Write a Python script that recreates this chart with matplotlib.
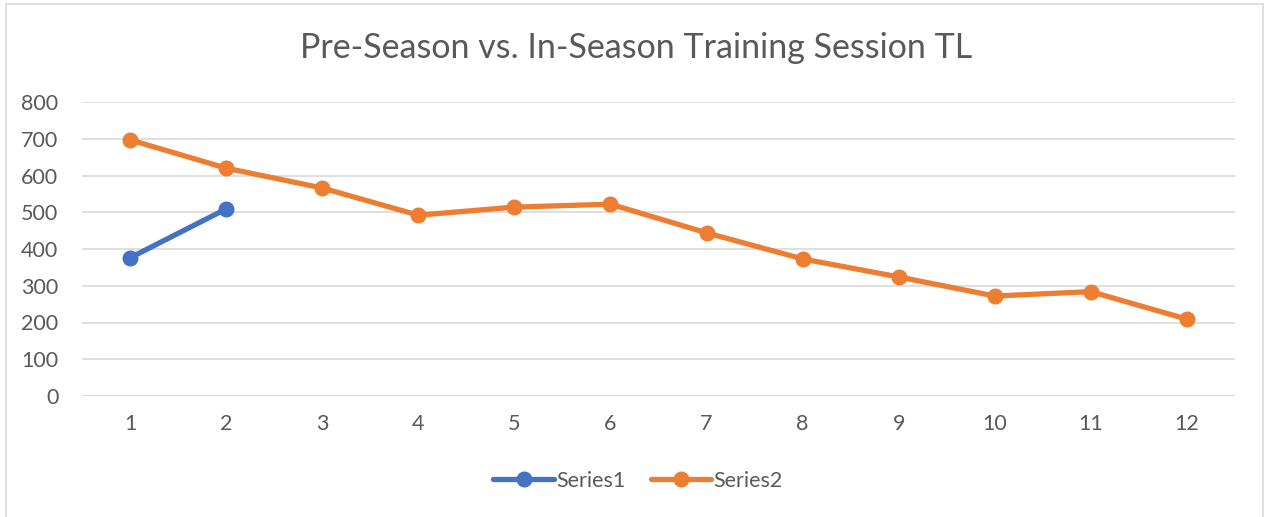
import matplotlib.pyplot as plt
from matplotlib.patches import Rectangle

# --- data ---
sessions = list(range(1, 13))
series1 = [376, 509]
series2 = [697, 620, 566, 492, 514, 522, 444, 373, 324, 272, 284, 209]
y_ticks = [0, 100, 200, 300, 400, 500, 600, 700, 800]

BLUE = "#4472C4"
ORANGE = "#ED7D31"
GRID = "#D9D9D9"
TXT = "#595959"
W, H = 1265, 517

plt.rcParams['font.family'] = ['Lato', 'DejaVu Sans']

fig = plt.figure(figsize=(W / 100, H / 100), dpi=100)

# chart outer border (bottom edge runs off the image)
fig.patches.append(Rectangle((6 / W, -0.05), (1263 - 6) / W, 1.05 - 4 / H,
                             transform=fig.transFigure, fill=False,
                             edgecolor=GRID, linewidth=1.2))

ax = fig.add_axes([82 / W, 1 - 396 / H, (1235 - 82) / W, (396 - 102) / H])

ax.plot(sessions[:len(series1)], series1, color=BLUE, lw=3.8, marker='o',
        markersize=10.5, solid_capstyle='round', label='Series1', zorder=3)
ax.plot(sessions, series2, color=ORANGE, lw=3.8, marker='o',
        markersize=10.5, solid_capstyle='round', label='Series2', zorder=3)

ax.set_xlim(0.5, 12.5)
ax.set_ylim(0, 800)
ax.set_yticks(y_ticks)
ax.set_xticks(sessions)
ax.yaxis.grid(True, color=GRID, lw=1.2)
ax.set_axisbelow(True)
for s in ax.spines.values():
    s.set_visible(False)
ax.axhline(0, color=GRID, lw=1.2, zorder=1)
ax.tick_params(length=0, labelsize=15.5, colors=TXT)
ax.tick_params(axis='y', pad=17)
ax.tick_params(axis='x', pad=13)

fig.text(636 / W, 1 - 48 / H, "Pre-Season vs. In-Season Training Session TL",
         ha='center', va='center', fontsize=24.5, color=TXT)

fig.legend(loc='center', bbox_to_anchor=(638 / W, 1 - 481 / H), ncol=2,
           frameon=False, fontsize=15.5, labelcolor=TXT, handlelength=2.8,
           handletextpad=0.1, columnspacing=1.2)

plt.savefig("out.png", dpi=100)
